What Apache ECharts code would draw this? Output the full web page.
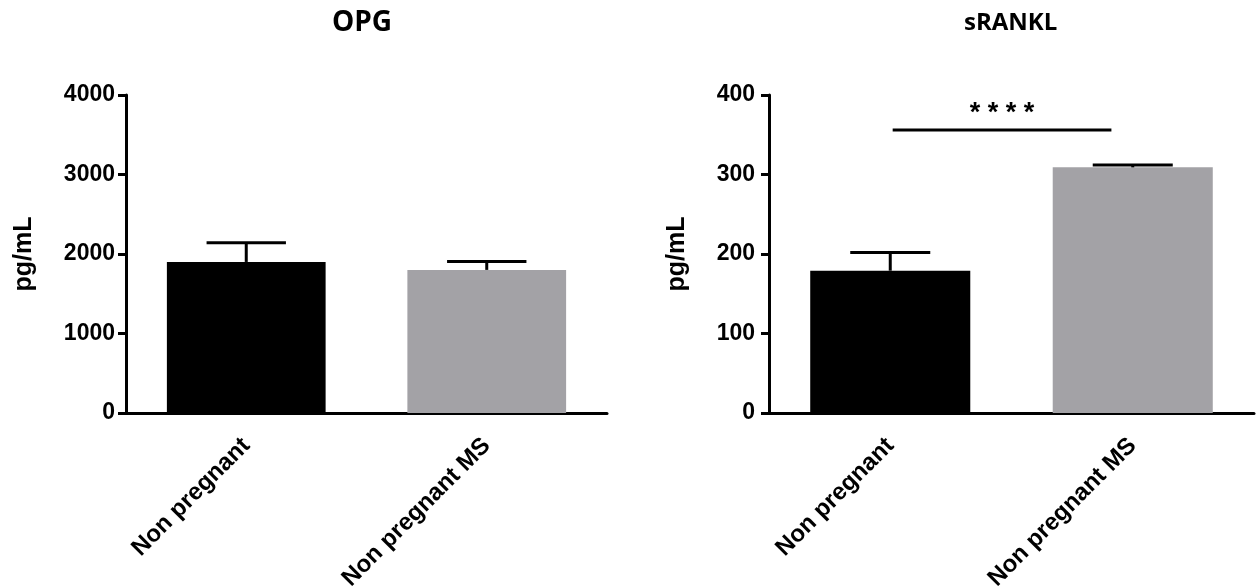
<!DOCTYPE html>
<html>
<head>
<meta charset="utf-8">
<title>OPG and sRANKL</title>
<script src="https://cdn.jsdelivr.net/npm/echarts@6/dist/echarts.min.js"></script>
<style>
  html, body { margin: 0; padding: 0; background: #fff; }
  #chart { width: 1256px; height: 587px; }
</style>
</head>
<body>
<div id="chart"></div>
<script>
// Groups shown on both panels
const categories = ['Non pregnant', 'Non pregnant MS'];

// OPG (pg/mL): group means and upper end of the error bars
const opgMean = [1900, 1800];
const opgUpper = [2140, 1905];
const opgTicks = [0, 1000, 2000, 3000, 4000];

// sRANKL (pg/mL): group means and upper end of the error bars
const ranklMean = [179, 309];
const ranklUpper = [202, 312];
const ranklTicks = [0, 100, 200, 300, 400];

// Significance bracket between the two sRANKL groups
const ranklSigLevel = [356];
const ranklSigText = ['* * * *'];

const panelTitles = ['OPG', 'sRANKL'];
const yName = 'pg/mL';

const FONT = '"Liberation Sans", Arial, sans-serif';
const TITLE_FONT = '"Open Sans", sans-serif';
const barColors = ['#000000', '#a3a2a6'];

const chart = echarts.init(document.getElementById('chart'), null, { renderer: 'canvas' });

function xAxisFor(gridIndex) {
  return {
    type: 'category',
    gridIndex: gridIndex,
    data: categories,
    axisLine: { lineStyle: { color: '#000', width: 3 } },
    axisTick: { alignWithLabel: true, length: 7, lineStyle: { color: '#000', width: 3 } },
    axisLabel: {
      rotate: 45, margin: 29, color: '#000',
      fontFamily: FONT, fontWeight: 'bold', fontSize: 24
    }
  };
}

function yAxisFor(gridIndex, ticks, nameGap, labelMargin) {
  return {
    type: 'value',
    gridIndex: gridIndex,
    min: ticks[0],
    max: ticks[ticks.length - 1],
    interval: ticks[1] - ticks[0],
    name: yName,
    nameLocation: 'middle',
    nameRotate: 90,
    nameGap: nameGap,
    nameTextStyle: { color: '#000', fontFamily: FONT, fontWeight: 'bold', fontSize: 25 },
    splitLine: { show: false },
    axisLine: { show: true, lineStyle: { color: '#000', width: 3 } },
    axisTick: { show: true, length: 8, lineStyle: { color: '#000', width: 3 } },
    axisLabel: {
      margin: labelMargin, color: '#000', fontFamily: FONT, fontWeight: 'bold', fontSize: 23,
      formatter: function (v) { return String(v); }
    }
  };
}

function barSeries(idx, values) {
  return {
    type: 'bar',
    xAxisIndex: idx,
    yAxisIndex: idx,
    barWidth: '66%',
    silent: true,
    data: values.map((v, i) => ({ value: v, itemStyle: { color: barColors[i] } })),
    z: 2
  };
}

// Upper error bars: stem from the bar top plus a cap half the bar width
function errorSeries(idx, means, uppers) {
  return {
    type: 'custom',
    xAxisIndex: idx,
    yAxisIndex: idx,
    silent: true,
    z: 3,
    data: means.map((m, i) => [i, m, uppers[i]]),
    renderItem: function (params, api) {
      const c = api.value(0);
      const base = api.coord([c, api.value(1)]);
      const top = api.coord([c, api.value(2)]);
      const half = api.size([1, 0])[0] * 0.165;
      const style = { stroke: '#000', lineWidth: 3, fill: null };
      return {
        type: 'group',
        children: [
          { type: 'line', shape: { x1: top[0], y1: base[1], x2: top[0], y2: top[1] }, style: style },
          { type: 'line', shape: { x1: top[0] - half, y1: top[1], x2: top[0] + half, y2: top[1] }, style: style }
        ]
      };
    }
  };
}

// Bracket line with the significance stars above it
const sigSeries = {
  type: 'custom',
  xAxisIndex: 1,
  yAxisIndex: 1,
  silent: true,
  z: 4,
  data: ranklSigLevel.map((lvl, i) => [0, 1, lvl, i]),
  renderItem: function (params, api) {
    const band = api.size([1, 0])[0];
    const p0 = api.coord([api.value(0), api.value(2)]);
    const p1 = api.coord([api.value(1), api.value(2)]);
    const x1 = p0[0] + band * 0.01;
    const x2 = p1[0] - band * 0.088;
    return {
      type: 'group',
      children: [
        { type: 'line', shape: { x1: x1, y1: p0[1], x2: x2, y2: p0[1] }, style: { stroke: '#000', lineWidth: 3 } },
        {
          type: 'text',
          x: (x1 + x2) / 2, y: p0[1] - 16,
          style: {
            text: ranklSigText[api.value(3)],
            align: 'center', verticalAlign: 'middle',
            fill: '#000', font: 'bold 27px ' + FONT
          }
        }
      ]
    };
  }
};

const option = {
  backgroundColor: '#ffffff',
  animation: false,
  grid: [
    { left: 126, top: 95, width: 481, height: 318, containLabel: false, outerBoundsMode: 'none' },
    { left: 769, top: 95, width: 485, height: 318, containLabel: false, outerBoundsMode: 'none' }
  ],
  xAxis: [xAxisFor(0), xAxisFor(1)],
  yAxis: [yAxisFor(0, opgTicks, 89, 11), yAxisFor(1, ranklTicks, 79, 14)],
  graphic: [
    {
      type: 'text', left: 364 - 32, top: 9,
      style: { text: panelTitles[0], fill: '#000', font: 'bold 28px ' + TITLE_FONT }
    },
    {
      type: 'text', left: 1012 - 48, top: 11,
      style: { text: panelTitles[1], fill: '#000', font: 'bold 24px ' + TITLE_FONT }
    }
  ],
  series: [
    barSeries(0, opgMean),
    errorSeries(0, opgMean, opgUpper),
    barSeries(1, ranklMean),
    errorSeries(1, ranklMean, ranklUpper),
    sigSeries
  ]
};

chart.setOption(option);
</script>
</body>
</html>
